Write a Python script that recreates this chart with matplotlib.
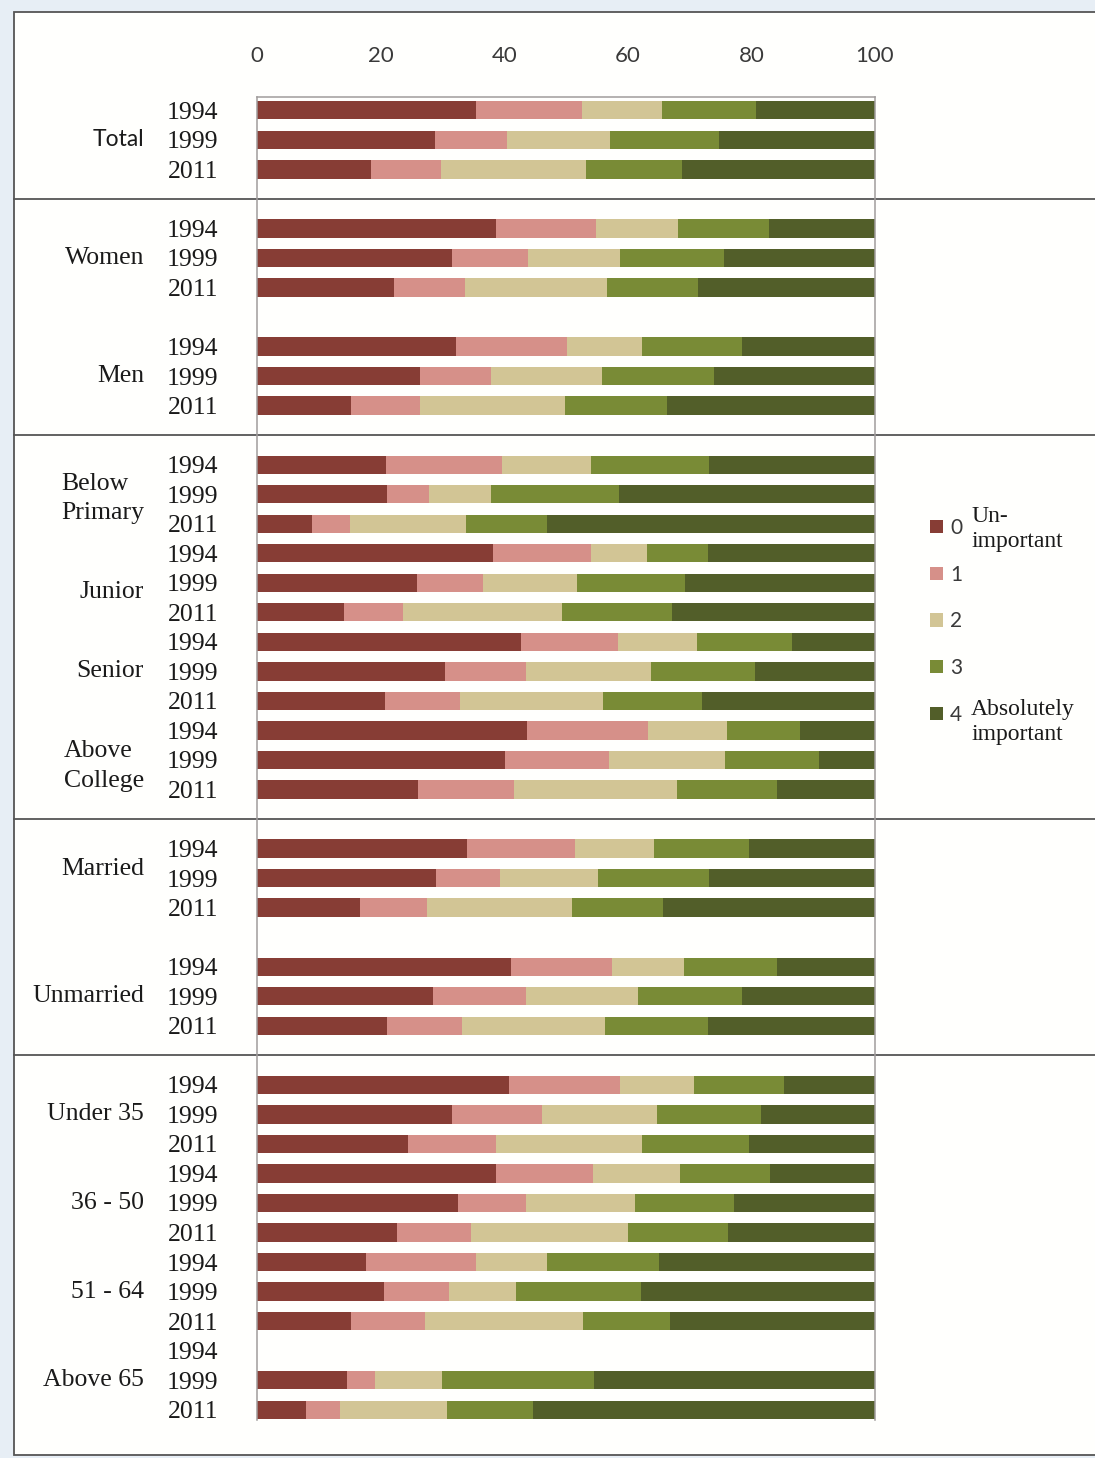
import numpy as np
import matplotlib
matplotlib.use("Agg")
import matplotlib.pyplot as plt
import matplotlib.transforms as mtransforms
from matplotlib.patches import Rectangle
from matplotlib.lines import Line2D

# groups and survey years
groups = ["Total", "Women", "Men", "Below\nPrimary", "Junior", "Senior", "Above\nCollege",
          "Married", "Unmarried", "Under 35", "36 - 50", "51 - 64", "Above 65"]
years = ["1994", "1999", "2011"]

# share (%) per importance level, 3 rows (1994, 1999, 2011) per group
nan = np.nan
imp0 = [35.5, 28.8, 18.5, 38.6, 31.6, 22.1, 32.2, 26.4, 15.2, 20.9, 21.1, 8.9, 38.2, 25.9, 14.0,
        42.7, 30.4, 20.7, 43.7, 40.1, 26.1, 34.0, 29.0, 16.7, 41.1, 28.4, 21.1, 40.7, 31.5, 24.5,
        38.6, 32.6, 22.7, 17.6, 20.5, 15.2, nan, 14.6, 8.0]
imp1 = [17.1, 11.7, 11.3, 16.2, 12.3, 11.5, 18.0, 11.4, 11.2, 18.8, 6.7, 6.1, 15.8, 10.7, 9.7,
        15.7, 13.1, 12.1, 19.6, 16.9, 15.5, 17.4, 10.4, 10.8, 16.3, 15.1, 12.1, 18.1, 14.6, 14.1,
        15.8, 10.9, 12.0, 17.9, 10.5, 12.0, nan, 4.5, 5.4]
imp2 = [12.9, 16.7, 23.4, 13.3, 14.9, 23.1, 12.1, 18.0, 23.4, 14.3, 10.0, 18.8, 9.1, 15.2, 25.7,
        12.8, 20.2, 23.2, 12.7, 18.8, 26.3, 12.9, 15.8, 23.5, 11.7, 18.1, 23.1, 11.9, 18.6, 23.7,
        14.0, 17.6, 25.4, 11.4, 10.9, 25.6, nan, 10.9, 17.4]
imp3 = [15.3, 17.6, 15.6, 14.7, 16.8, 14.7, 16.1, 18.2, 16.5, 19.2, 20.8, 13.1, 9.9, 17.4, 17.7,
        15.3, 16.9, 16.0, 11.9, 15.1, 16.2, 15.3, 18.0, 14.7, 15.0, 16.8, 16.7, 14.6, 16.9, 17.3,
        14.6, 16.1, 16.1, 18.2, 20.2, 14.1, nan, 24.6, 13.9]
imp4 = [19.2, 25.2, 31.2, 17.2, 24.4, 28.6, 21.6, 26.0, 33.7, 26.8, 41.4, 53.1, 27.0, 30.8, 32.9,
        13.5, 19.4, 28.0, 12.1, 9.1, 15.9, 20.4, 26.8, 34.3, 15.9, 21.6, 27.0, 14.7, 18.4, 20.4,
        17.0, 22.8, 23.8, 34.9, 37.9, 33.1, nan, 45.4, 55.3]
levels = ["0", "1", "2", "3", "4"]

colors = ["#873D35", "#D69089", "#D2C595", "#798B36", "#525E29"]

# blank row after these groups, separator line after some of them
gap_after = ["Total", "Women", "Men", "Above\nCollege", "Married", "Unmarried"]
line_after = ["Total", "Men", "Above\nCollege", "Unmarried"]

rows = []
group_rows = {}
sep_rows = []
r = 0
for g in groups:
    group_rows[g] = [r, r + 1, r + 2]
    rows += [r, r + 1, r + 2]
    r += 3
    if g in gap_after:
        if g in line_after:
            sep_rows.append(r)
        r += 1
rows = np.array(rows)

serif = "Liberation Serif"
sans = "Lato"

fig = plt.figure(figsize=(10.95, 14.58), dpi=100)
fig.patch.set_facecolor("#E7EEF5")

# outer frame
frame = Rectangle((14 / 1095, 3 / 1458), 1.2, 1443 / 1458, transform=fig.transFigure,
                  facecolor="#FFFFFD", edgecolor="#555555", lw=1.3, zorder=-10)
fig.add_artist(frame)

ax = fig.add_axes([257 / 1095, 1 - 1420 / 1458, 618 / 1095, 1323 / 1458])
ax.set_facecolor("none")

left = np.zeros(len(rows))
for vals, lab, c in zip([imp0, imp1, imp2, imp3, imp4], levels, colors):
    v = np.array(vals)
    ax.barh(rows, v, left=left, height=0.62, color=c, label=lab, linewidth=0)
    left = left + np.nan_to_num(v)

ax.set_xlim(0, 100)
ax.set_ylim(44.35, -0.45)
ax.set_xticks([0, 20, 40, 60, 80, 100])
ax.xaxis.tick_top()
ax.tick_params(axis="x", length=0, pad=22, labelsize=16, labelcolor="#3A3A3A")
for t in ax.get_xticklabels():
    t.set_fontfamily(sans)
ax.set_xticks([20, 40, 60, 80], minor=True)
ax.tick_params(axis="x", which="minor", length=0)
ax.grid(axis="x", which="minor", color="#A09C9C", lw=1.1)
ax.set_axisbelow(True)

ax.set_yticks(rows)
ax.set_yticklabels(years * len(groups))
ax.tick_params(axis="y", length=0, pad=28, labelsize=18.5, labelcolor="#1A1A1A")
for t in ax.get_yticklabels():
    t.set_fontfamily(serif)

for s in ["left", "right", "top"]:
    ax.spines[s].set_color("#A09C9C")
    ax.spines[s].set_linewidth(1.1)
ax.spines["bottom"].set_visible(False)

# group names
tr = mtransforms.blended_transform_factory(fig.transFigure, ax.transData)
nudge = {"Junior": 0.3, "Married": -0.3, "Below\nPrimary": 0.15, "Above\nCollege": 0.2}
for g in groups:
    y = np.mean(group_rows[g]) + nudge.get(g, 0)
    fam = sans if g == "Total" else serif
    ax.text(144 / 1095, y, g, transform=tr, ha="right", va="center", multialignment="left",
            fontsize=16.5 if g == "Total" else 18.5, family=fam, color="#1A1A1A",
            linespacing=1.45)

# separator lines across the frame
for y in sep_rows:
    ax.add_line(Line2D([14 / 1095, 1.0], [y, y], transform=tr, color="#555555", lw=1.3,
                       clip_on=False))

leg = ax.legend(loc="upper left", bbox_to_anchor=(930 / 1095, 1 - 518 / 1458),
                bbox_transform=fig.transFigure, frameon=False, fontsize=15,
                handlelength=0.62, handleheight=0.62, handletextpad=0.35,
                labelspacing=1.28, borderpad=0, borderaxespad=0)
for t in leg.get_texts():
    t.set_fontfamily(sans)
    t.set_color("#3A3A3A")

fig.text(971 / 1095, 1 - 529 / 1458, "Un-\nimportant", ha="left", va="center",
         family=serif, fontsize=17, color="#1A1A1A", linespacing=1.25)
fig.text(971 / 1095, 1 - 722 / 1458, "Absolutely\nimportant", ha="left", va="center",
         family=serif, fontsize=17, color="#1A1A1A", linespacing=1.25)

fig.savefig("out.png", dpi=100, facecolor=fig.get_facecolor())
